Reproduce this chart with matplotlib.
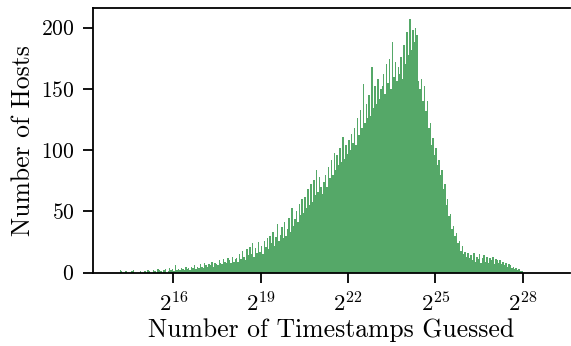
import numpy as np
import matplotlib
matplotlib.use("Agg")
import matplotlib.pyplot as plt

plt.rcParams['font.family'] = 'serif'
plt.rcParams['font.serif'] = ['cmr10', 'DejaVu Serif']
plt.rcParams['mathtext.fontset'] = 'cm'
plt.rcParams['axes.formatter.use_mathtext'] = True

# histogram in log2 space: first bin edge and bin width (log2 units)
log2_start = 14.15
log2_step = 0.05

# counts per bin, one row per power of two
counts = [
    2, 1, 0, 0, 1, 0, 0, 0, 1, 2, 0, 0, 0, 0, 1, 0, 0, 1, 0, 2,
    1, 0, 0, 2, 1, 0, 3, 2, 1, 0, 2, 3, 0, 1, 4, 2, 3, 1, 6, 2,
    3, 2, 4, 3, 2, 5, 3, 4, 2, 5, 4, 6, 3, 5, 4, 7, 5, 4, 8, 6,
    5, 7, 6, 9, 5, 8, 7, 6, 10, 8, 7, 11, 9, 8, 12, 10, 8, 13, 9, 11,
    12, 9, 15, 11, 18, 13, 10, 19, 14, 21, 15, 24, 13, 20, 16, 25, 17, 22, 15, 26,
    21, 28, 19, 30, 24, 33, 22, 29, 40, 26, 31, 37, 28, 41, 30, 36, 45, 33, 53, 38,
    44, 50, 41, 56, 47, 60, 49, 62, 53, 68, 55, 72, 58, 76, 63, 84, 66, 78, 70, 64,
    74, 80, 70, 86, 77, 92, 80, 98, 84, 96, 88, 102, 90, 111, 93, 104, 97, 108, 100, 113,
    106, 118, 104, 126, 112, 133, 118, 154, 122, 138, 126, 145, 128, 168, 134, 152, 138, 158, 142, 150,
    152, 162, 146, 170, 155, 174, 150, 188, 160, 172, 156, 168, 162, 176, 158, 186, 170, 196, 178, 207,
    182, 198, 188, 200, 194, 156, 150, 158, 140, 152, 132, 140, 118, 122, 104, 110, 96, 102, 88, 92,
    80, 84, 68, 72, 55, 60, 46, 48, 36, 38, 30, 32, 24, 26, 18, 22, 15, 17, 13, 16,
    12, 14, 10, 16, 9, 13, 11, 15, 8, 12, 14, 9, 13, 8, 12, 10, 13, 7, 11, 10,
    8, 10, 7, 9, 6, 8, 5, 7, 6, 4, 5, 3, 4, 2, 3, 1, 1, 0, 0, 0,
]

xtick_powers = [16, 19, 22, 25, 28]
ytick_values = [0, 50, 100, 150, 200]

edges = 2.0 ** (log2_start + log2_step * np.arange(len(counts) + 1))

fig = plt.figure(figsize=(5.71, 3.46), dpi=100)
ax = fig.add_axes([0.163, 0.212, 0.835, 0.765])

ax.bar(edges[:-1], counts, width=np.diff(edges), align='edge',
       color='#55a868', linewidth=0)

ax.set_xscale('log', base=2)
ax.set_xlim(2.0 ** 13.24, 2.0 ** 29.62)
ax.set_ylim(0, 216)
ax.set_xticks([2.0 ** p for p in xtick_powers])
ax.set_xticklabels([r'$2^{%d}$' % p for p in xtick_powers])
ax.minorticks_off()
ax.set_yticks(ytick_values)

ax.spines['right'].set_visible(False)
for s in ['left', 'bottom', 'top']:
    ax.spines[s].set_linewidth(1.3)
ax.tick_params(axis='y', labelsize=15.5, length=7.5, width=1.3, pad=6)
ax.tick_params(axis='x', labelsize=16.5, length=7.5, width=1.3, pad=6)

ax.set_xlabel('Number of Timestamps Guessed', fontsize=18.5, labelpad=2)
ax.set_ylabel('Number of Hosts', fontsize=18.5, labelpad=4)

fig.savefig('out.png', dpi=100)
